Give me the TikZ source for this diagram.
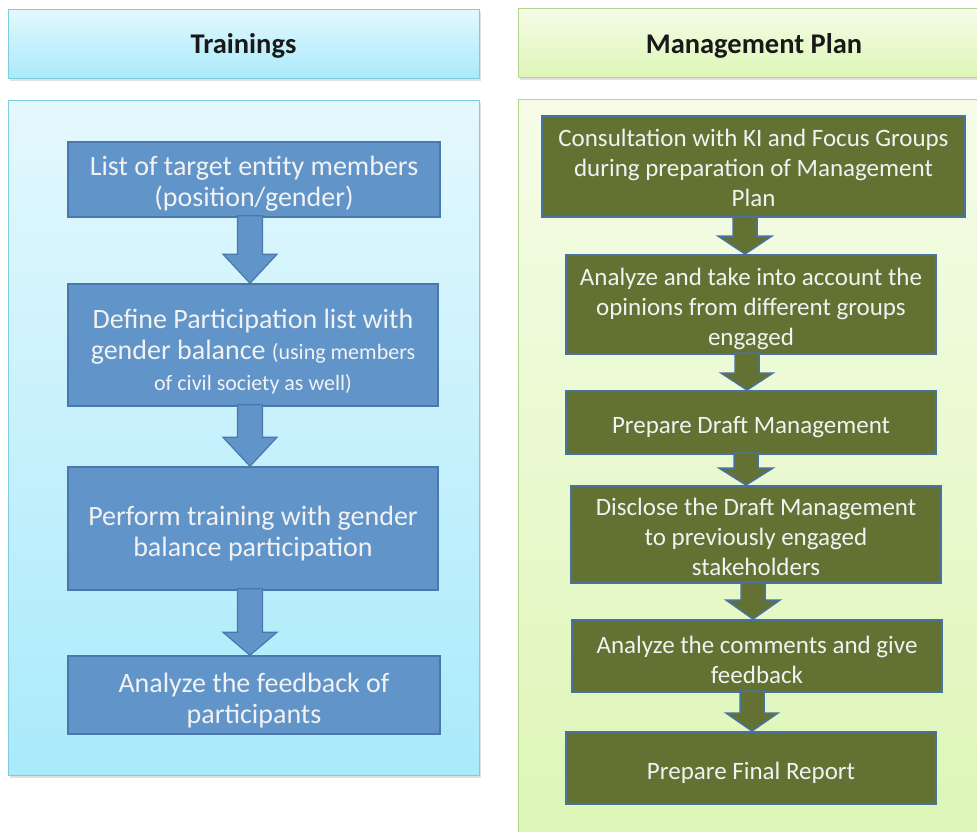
\documentclass[tikz,border=0pt]{standalone}
\usepackage{fontspec}
\setmainfont{Carlito}
\usetikzlibrary{calc}
\definecolor{bluefill}{HTML}{6194C9}
\definecolor{blueedge}{HTML}{4A78AC}
\definecolor{greenfill}{HTML}{637132}
\definecolor{greenedge}{HTML}{4A72A0}
\definecolor{txt}{HTML}{F2F2F2}
\definecolor{cyanTop}{HTML}{E4F8FD}
\definecolor{cyanBot}{HTML}{A9EAFB}
\definecolor{cyanEdge}{HTML}{7FCCDD}
\definecolor{limeTop}{HTML}{F6FCE8}
\definecolor{limeBot}{HTML}{DDF6B6}
\definecolor{limeEdge}{HTML}{B5D58A}
\tikzset{
  panelblue/.style={draw=cyanEdge, line width=1pt, top color=cyanTop, bottom color=cyanBot},
  panelgreen/.style={draw=limeEdge, line width=1pt, top color=limeTop, bottom color=limeBot},
  hdrtext/.style={font=\bfseries\fontsize{28.5}{32}\selectfont, text=black!90},
  textdown/.style={execute at begin node={\rule{0pt}{#1}}},
  bluebox/.style={draw=blueedge, line width=1.5pt, fill=bluefill, text=txt, align=center,
     font=\fontsize{28}{31}\selectfont, inner sep=0pt},
  greenbox/.style={draw=greenedge, line width=2pt, fill=greenfill, text=txt, align=center,
     font=\fontsize{25}{30}\selectfont, inner sep=0pt, textdown=27pt},
  bluearr/.style={draw=blueedge, line width=1.2pt, fill=bluefill, line join=miter},
  greenarr/.style={draw=greenedge, line width=1.5pt, fill=greenfill, line join=miter}
}
% #1 style, #2 from node, #3 to node, #4 x-coordinate node, #5 shaft half width, #6 head half width, #7 head length
\newcommand{\blockarrow}[7]{%
  \draw[#1]
    ($(#2.south -| #4)+(-#5,-2)$) --
    ($(#3.north -| #4)+(-#5,-#7)$) --
    ($(#3.north -| #4)+(-#6,-#7)$) --
    (#3.north -| #4) --
    ($(#3.north -| #4)+(#6,-#7)$) --
    ($(#3.north -| #4)+(#5,-#7)$) --
    ($(#2.south -| #4)+(#5,-2)$) -- cycle;
}
\newcommand{\smalltxt}[1]{{\fontsize{22}{31}\selectfont #1}}
\newcommand{\lift}[1]{\rule{0pt}{#1}}
\begin{document}
\begin{tikzpicture}[x=1pt,y=-1pt]
\useasboundingbox (0,0) rectangle (977,831);
\fill[white] (0,0) rectangle (977,831);

% ---- Trainings column ----
\fill[black!12] (10,12) rectangle (481,81);
\path[panelblue] (8,9) rectangle (479,78);
\node[hdrtext] (hT) at (243.5,46) {Trainings};
\fill[black!12] (10,103) rectangle (481,778);
\path[panelblue] (8,100) rectangle (479,775);

\node[bluebox, minimum width=372pt, minimum height=75pt] (b1) at (254,179.5)
  {\lift{27pt}List of target entity members\\(position/gender)};
\node[bluebox, minimum width=370pt, minimum height=122pt] (b2) at (253,345)
  {\lift{33pt}Define Participation list with\\gender balance \smalltxt{(using members}\\\smalltxt{of civil society as well)}};
\node[bluebox, minimum width=370pt, minimum height=123pt] (b3) at (253,528.5)
  {\lift{29pt}Perform training with gender\\balance participation};
\node[bluebox, minimum width=372pt, minimum height=78pt] (b4) at (254,695)
  {\lift{31pt}Analyze the feedback of\\participants};

\coordinate (bx) at (250,0);
\blockarrow{bluearr}{b1}{b2}{bx}{12.5}{27}{29}
\blockarrow{bluearr}{b2}{b3}{bx}{12.5}{27}{29}
\blockarrow{bluearr}{b3}{b4}{bx}{12.5}{27}{23}

% ---- Management Plan column ----
\fill[black!12] (520,11) rectangle (980,80);
\path[panelgreen] (518,8) rectangle (985,77);
\node[hdrtext] (hM) at (754,46) {Management Plan};
\fill[black!12] (520,102) rectangle (980,840);
\path[panelgreen] (518,99) rectangle (985,840);

\node[greenbox, minimum width=423pt, minimum height=101pt] (g1) at (753.5,166.5)
  {\lift{21pt}Consultation with KI and Focus Groups\\during preparation of Management\\Plan};
\node[greenbox, minimum width=370pt, minimum height=99pt] (g2) at (751,304.5)
  {\lift{27pt}Analyze and take into account the\\opinions from different groups\\engaged};
\node[greenbox, minimum width=370pt, minimum height=63pt] (g3) at (751,422.5)
  {Prepare Draft Management};
\node[greenbox, minimum width=370pt, minimum height=97pt] (g4) at (756,534.5)
  {\lift{23pt}Disclose the Draft Management\\to previously engaged\\stakeholders};
\node[greenbox, minimum width=370pt, minimum height=72pt] (g5) at (757,656)
  {\lift{25pt}Analyze the comments and give\\feedback};
\node[greenbox, minimum width=370pt, minimum height=72pt] (g6) at (751,768)
  {Prepare Final Report};

\coordinate (gx1) at (745,0);
\coordinate (gx2) at (747,0);
\coordinate (gx3) at (746,0);
\coordinate (gx4) at (753,0);
\coordinate (gx5) at (752,0);
\blockarrow{greenarr}{g1}{g2}{gx1}{12}{27}{18}
\blockarrow{greenarr}{g2}{g3}{gx2}{12}{26}{17}
\blockarrow{greenarr}{g3}{g4}{gx3}{12}{27}{17}
\blockarrow{greenarr}{g4}{g5}{gx4}{12}{27}{19}
\blockarrow{greenarr}{g5}{g6}{gx5}{12}{26}{18}
\end{tikzpicture}
\end{document}
